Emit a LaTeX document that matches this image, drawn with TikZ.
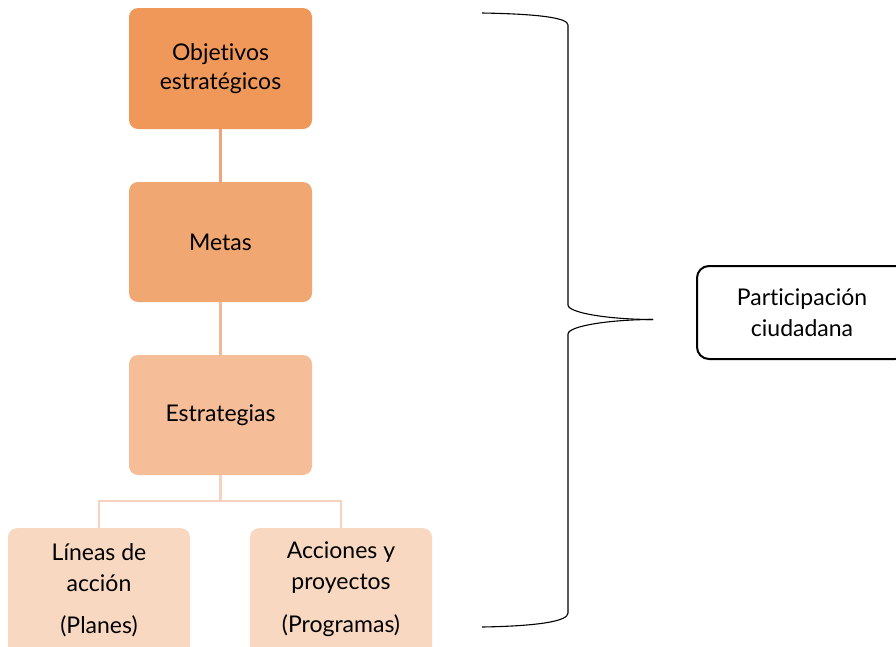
\documentclass[tikz,border=0pt]{standalone}
\usepackage{fontspec}
\setmainfont{Lato}[Ligatures={NoCommon}]
\begin{document}
\begin{tikzpicture}[x=1pt,y=-1pt,
  box/.style={rounded corners=9pt, minimum width=183pt, inner sep=0pt, align=center, font=\fontsize{23}{29}\selectfont, text=black},
  link/.style={line width=2.5pt},
  brace/.style={line width=1.1pt, black}]
\definecolor{c1}{HTML}{F0985A}
\definecolor{c2}{HTML}{F1A772}
\definecolor{c3}{HTML}{F5BD98}
\definecolor{c4}{HTML}{F8D8C1}
\definecolor{l1}{HTML}{EFA47C}
\definecolor{l2}{HTML}{F3B896}
\definecolor{l3}{HTML}{F7D2C0}
\useasboundingbox (0,0) rectangle (896,646);
\node[box, fill=c1, minimum height=121pt] (obj) at (220.5,68.5) {Objetivos\\estratégicos};
\node[box, fill=c2, minimum height=120pt] (met) at (220.5,242) {Metas};
\node[box, fill=c3, minimum height=120pt] (est) at (220.5,415) {Estrategias};
\node[box, fill=c4, minimum width=182pt, minimum height=130pt, anchor=north] (lin) at (99,528) {};
\node[box, fill=c4, minimum width=182pt, minimum height=130pt, anchor=north] (acc) at (341,528) {};
\node[font=\fontsize{23}{31}\selectfont, align=center, anchor=center] (lint) at (99,568) {Líneas de\\acción};
\node[font=\fontsize{23}{28}\selectfont, anchor=center] (linp) at (99,626) {(Planes)};
\node[font=\fontsize{23}{31}\selectfont, align=center, anchor=center] (acct) at (341,568) {Acciones y\\proyectos};
\node[font=\fontsize{23}{28}\selectfont, anchor=center] (accp) at (341,626) {(Programas)};
\draw[link, l1] (obj.south) -- (met.north);
\draw[link, l2] (met.south) -- (est.north);
\coordinate (j) at (220.5,501);
\draw[link, l3] (est.south) -- (j) -| (lin.north);
\draw[link, l3] (j) -| (acc.north);
\coordinate (b0) at (482,13);
\coordinate (b1) at (568,25);
\coordinate (b2) at (568,305);
\coordinate (tip) at (653,319.5);
\coordinate (b3) at (568,334);
\coordinate (b4) at (568,613);
\coordinate (b5) at (482,627);
\draw[brace] (b0) .. controls (540,14) and (568,18) .. (b1) -- (b2)
  .. controls (568,313) and (610,319.5) .. (tip);
\draw[brace] (tip) .. controls (610,319.5) and (568,326) .. (b3) -- (b4)
  .. controls (568,621) and (540,626) .. (b5);
\node[draw=black, line width=2pt, rounded corners=12pt, minimum width=210pt, minimum height=93pt, align=center, font=\fontsize{23}{31}\selectfont] (par) at (802,312.5) {Participación\\ciudadana};
\end{tikzpicture}
\end{document}
